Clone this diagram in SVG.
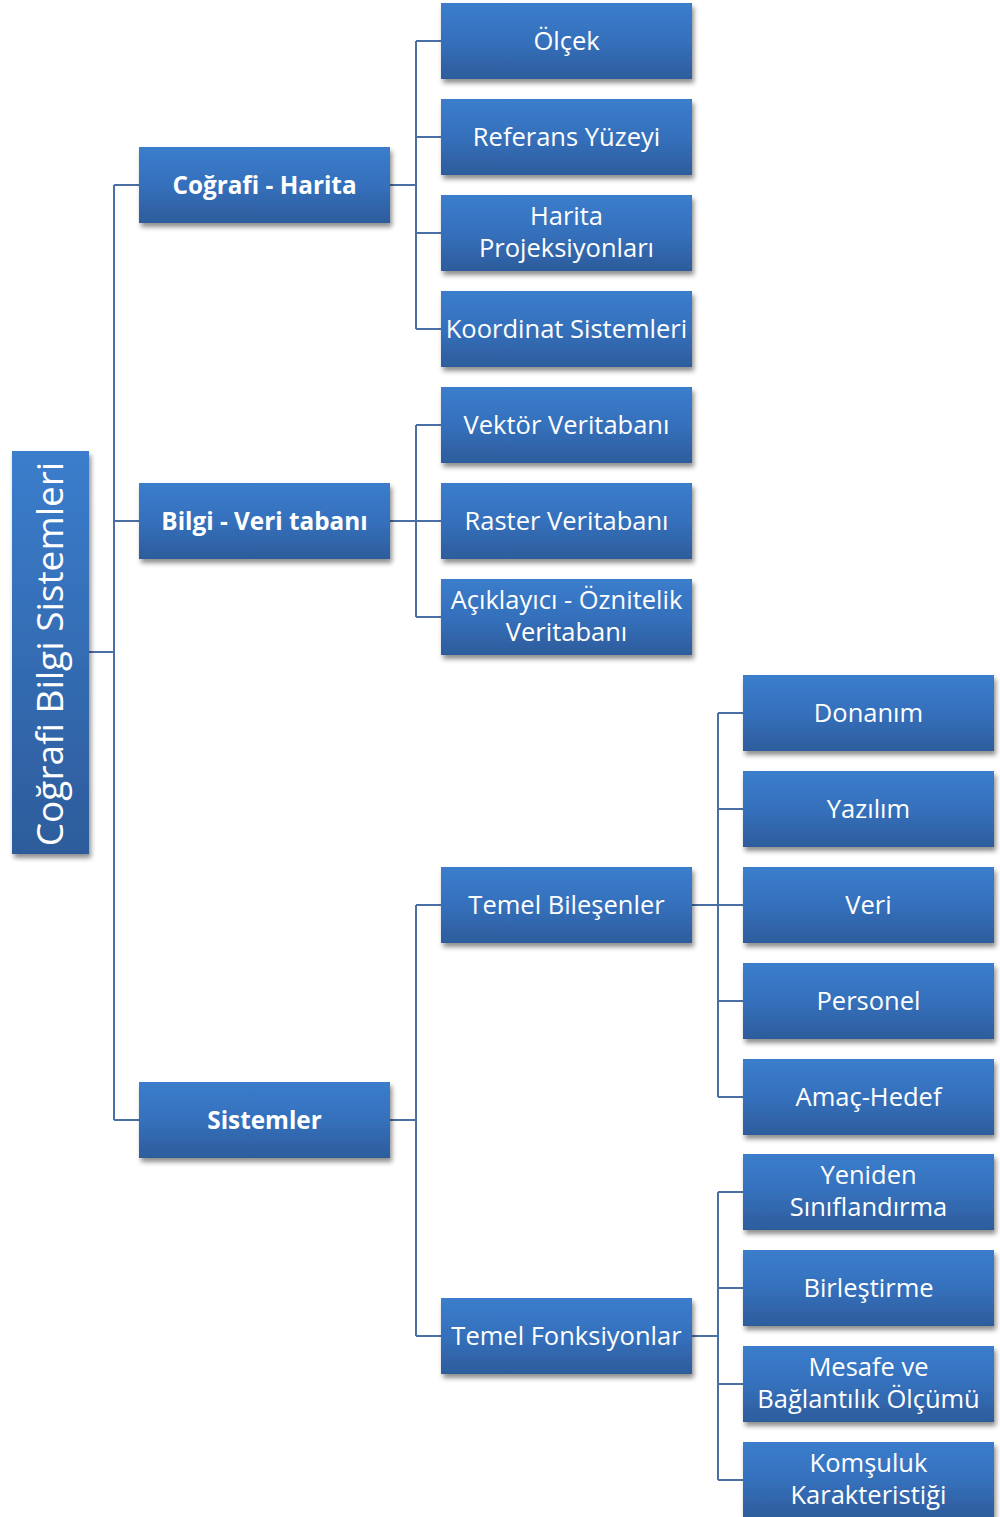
<svg xmlns="http://www.w3.org/2000/svg" width="1000" height="1517" viewBox="0 0 1000 1517">
<defs>
<linearGradient id="g" x1="0" y1="0" x2="0" y2="1">
<stop offset="0" stop-color="#3b7dcc"/>
<stop offset="0.5" stop-color="#3570bc"/>
<stop offset="1" stop-color="#2d5c9b"/>
</linearGradient>
<linearGradient id="gr" x1="0" y1="0" x2="0" y2="1">
<stop offset="0" stop-color="#3b7dcc"/>
<stop offset="1" stop-color="#2d5c9b"/>
</linearGradient>
<filter id="sh" x="-10%" y="-10%" width="125%" height="135%">
<feGaussianBlur in="SourceAlpha" stdDeviation="2.5"/>
<feOffset dx="2" dy="4" result="b"/>
<feComponentTransfer><feFuncA type="linear" slope="0.45"/></feComponentTransfer>
<feMerge><feMergeNode/><feMergeNode in="SourceGraphic"/></feMerge>
</filter>
</defs>
<style>
.b{fill:url(#g);filter:url(#sh)}
.t{font-family:"Open Sans","Noto Sans",sans-serif;font-size:25.5px;fill:#fff;text-anchor:middle;font-variant-ligatures:none}
.tb{font-weight:bold;font-size:24.3px}
.c{fill:none;stroke:#4a6fa5;stroke-width:2}
</style>
<g id="connectors">
<path class="c" d="M89 652H114M114 185V1120M114 185H139M114 521H139M114 1120H139"/>
<path class="c" d="M390 185H416M416 41V329M416 41H441M416 137H441M416 233H441M416 329H441"/>
<path class="c" d="M390 521H441M416 425V617M416 425H441M416 617H441"/>
<path class="c" d="M390 1120H416M416 905V1336M416 905H441M416 1336H441"/>
<path class="c" d="M692 905H743M718 713V1097M718 713H743M718 809H743M718 1001H743M718 1097H743"/>
<path class="c" d="M692 1336H718M718 1192V1480M718 1192H743M718 1288H743M718 1384H743M718 1480H743"/>
</g>
<g id="root"><rect class="b" x="12" y="451" width="77" height="403" style="fill:url(#gr)"/><text class="t" transform="translate(63 654) rotate(-90)" style="font-size:37px">Coğrafi Bilgi Sistemleri</text></g>
<g id="cografi-harita"><rect class="b" x="139" y="147" width="251" height="76"/><text class="t tb" x="264.5" y="194">Coğrafi - Harita</text></g>
<g id="bilgi-veri"><rect class="b" x="139" y="483" width="251" height="76"/><text class="t tb" x="264.5" y="530">Bilgi - Veri tabanı</text></g>
<g id="sistemler"><rect class="b" x="139" y="1082" width="251" height="76"/><text class="t tb" x="264.5" y="1129">Sistemler</text></g>
<g id="olcek"><rect class="b" x="441" y="3" width="251" height="76"/><text class="t" x="566.5" y="50">Ölçek</text></g>
<g id="referans"><rect class="b" x="441" y="99" width="251" height="76"/><text class="t" x="566.5" y="146">Referans Yüzeyi</text></g>
<g id="harita-proj"><rect class="b" x="441" y="195" width="251" height="76"/><text class="t" x="566.5" y="225">Harita</text><text class="t" x="566.5" y="257">Projeksiyonları</text></g>
<g id="koordinat"><rect class="b" x="441" y="291" width="251" height="76"/><text class="t" x="566.5" y="338">Koordinat Sistemleri</text></g>
<g id="vektor"><rect class="b" x="441" y="387" width="251" height="76"/><text class="t" x="566.5" y="434">Vektör Veritabanı</text></g>
<g id="raster"><rect class="b" x="441" y="483" width="251" height="76"/><text class="t" x="566.5" y="530">Raster Veritabanı</text></g>
<g id="aciklayici"><rect class="b" x="441" y="579" width="251" height="76"/><text class="t" x="566.5" y="609">Açıklayıcı - Öznitelik</text><text class="t" x="566.5" y="641">Veritabanı</text></g>
<g id="temel-bilesenler"><rect class="b" x="441" y="867" width="251" height="76"/><text class="t" x="566.5" y="914">Temel Bileşenler</text></g>
<g id="temel-fonksiyonlar"><rect class="b" x="441" y="1298" width="251" height="76"/><text class="t" x="566.5" y="1345">Temel Fonksiyonlar</text></g>
<g id="donanim"><rect class="b" x="743" y="675" width="251" height="76"/><text class="t" x="868.5" y="722">Donanım</text></g>
<g id="yazilim"><rect class="b" x="743" y="771" width="251" height="76"/><text class="t" x="868.5" y="818">Yazılım</text></g>
<g id="veri"><rect class="b" x="743" y="867" width="251" height="76"/><text class="t" x="868.5" y="914">Veri</text></g>
<g id="personel"><rect class="b" x="743" y="963" width="251" height="76"/><text class="t" x="868.5" y="1010">Personel</text></g>
<g id="amac"><rect class="b" x="743" y="1059" width="251" height="76"/><text class="t" x="868.5" y="1106">Amaç-Hedef</text></g>
<g id="yeniden"><rect class="b" x="743" y="1154" width="251" height="76"/><text class="t" x="868.5" y="1184">Yeniden</text><text class="t" x="868.5" y="1216">Sınıflandırma</text></g>
<g id="birlestirme"><rect class="b" x="743" y="1250" width="251" height="76"/><text class="t" x="868.5" y="1297">Birleştirme</text></g>
<g id="mesafe"><rect class="b" x="743" y="1346" width="251" height="76"/><text class="t" x="868.5" y="1376">Mesafe ve</text><text class="t" x="868.5" y="1408">Bağlantılık Ölçümü</text></g>
<g id="komsuluk"><rect class="b" x="743" y="1442" width="251" height="76"/><text class="t" x="868.5" y="1472">Komşuluk</text><text class="t" x="868.5" y="1504">Karakteristiği</text></g>
</svg>
